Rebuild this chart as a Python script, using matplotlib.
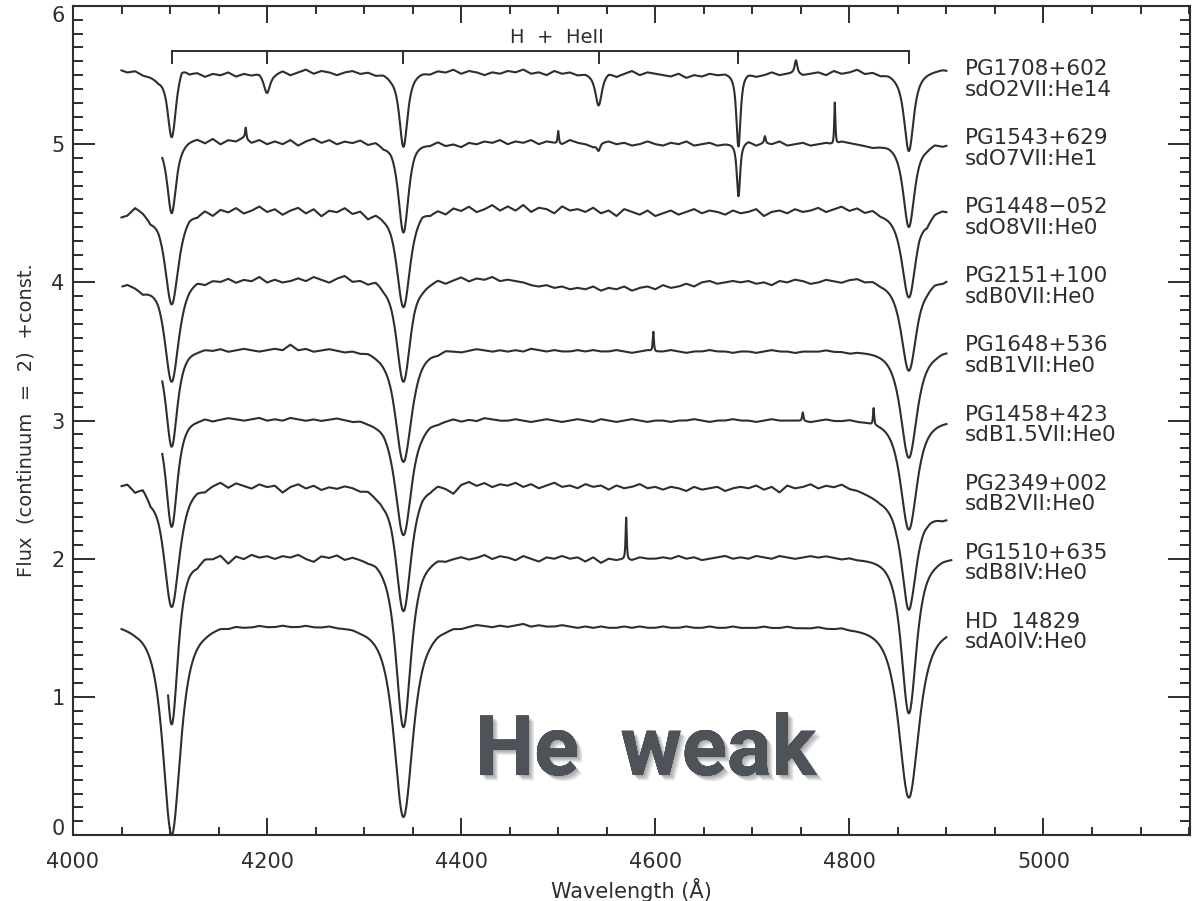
import numpy as np
import matplotlib
matplotlib.use("Agg")
import matplotlib.pyplot as plt
from matplotlib import patheffects, font_manager
from matplotlib.ticker import MultipleLocator

# ---------------------------------------------------------------- data
stars = ["PG1708+602", "PG1543+629", "PG1448\u2212052", "PG2151+100", "PG1648+536",
         "PG1458+423", "PG2349+002", "PG1510+635", "HD  14829"]
classes = ["sdO2VII:He14", "sdO7VII:He1", "sdO8VII:He0", "sdB0VII:He0", "sdB1VII:He0",
           "sdB1.5VII:He0", "sdB2VII:He0", "sdB8IV:He0", "sdA0IV:He0"]
continuum = [5.5, 5.0, 4.5, 4.0, 3.5, 3.0, 2.5, 2.0, 1.5]
wl_start = [4050, 4092, 4050, 4051, 4092, 4092, 4050, 4098, 4050]
wl_end = [4900, 4900, 4900, 4900, 4900, 4900, 4900, 4905, 4900]

# Balmer lines H-delta, H-gamma, H-beta
balmer_center = [4101.7, 4340.5, 4861.3]
balmer_depth = [[0.45, 0.52, 0.55], [0.50, 0.64, 0.60], [0.66, 0.68, 0.61],
                [0.72, 0.72, 0.64], [0.69, 0.80, 0.77], [0.77, 0.83, 0.79],
                [0.85, 0.88, 0.87], [1.20, 1.22, 1.12], [1.50, 1.37, 1.23]]
balmer_width = [[6.5, 6.5, 7.5], [7, 8, 9], [10.5, 10.5, 11],
                [11, 11, 12], [9, 13, 13], [9, 13, 13],
                [12, 12, 12], [10, 12, 12], [14, 15, 16]]

# other features: (centre, depth, width); negative depth = emission
extra_lines = [
    [(4199.8, 0.13, 5), (4541.6, 0.22, 5), (4685.7, 0.52, 3.3), (4745, -0.09, 2)],
    [(4685.7, 0.38, 2.6), (4541.6, 0.05, 2.5), (4178, -0.08, 1.0),
     (4500, -0.09, 1.0), (4785, -0.30, 0.9), (4713, -0.05, 1.2)],
    [],
    [],
    [(4598, -0.14, 0.9)],
    [(4752, -0.06, 1.0), (4825, -0.12, 0.9)],
    [],
    [(4570, -0.30, 0.9)],
    [],
]

# continuum wiggles (units of 0.01) sampled every 8 A from 4048 A
wiggle_wl = np.arange(4048, 4905, 8)
wiggles = [
    [4, 2, 3, 0, -1, -3, 0, 0, 8, 2,  2, -1, 1, 0, 2, -1, 1, 0, 2, 0,
     1, 3, 0, 2, 4, 1, 3, 2, 0, 2,  3, 1, 2, 0, 1, -1, 0, 0, 1, 2,
     1, 3, 2, 4, 1, 3, 2, 0, 2, 1,  3, 2, 4, 1, 2, 0, 3, 1, 2, 0,
     1, 0, 0, 2, -1, 1, 3, 0, 2, 1,  0, -1, 1, -2, 0, -1, 1, 0, 1, 0,
     0, 1, -1, 0, 2, 0, 1, 2, 0, 1,  2, 0, 3, 1, 2, 4, 1, 2, 0, 1,
     0, 0, 0, 1, 2, 3, 4, 3],
    [0, 0, 0, 0, 0, 0, 0, 0, 1, 3,  4, 1, 4, 0, 3, 2, 5, 1, 3, 0,
     2, 0, 3, -1, 2, 4, 1, 3, 0, 2,  1, 3, 0, 2, -1, 1, 0, 0, 2, 1,
     0, 2, -1, 0, -2, 1, 0, 2, 1, 3,  0, 2, 1, 3, 0, 2, 1, 0, 3, 1,
     0, -2, 1, 2, 0, 1, -1, 0, 2, 0,  -1, 1, 0, 2, -1, 0, 1, -1, 0, 0,
     0, 2, -1, 1, 0, 2, -1, 0, 1, -1,  0, 1, 0, 2, 1, 0, -1, -2, -1, 0,
     0, 0, 0, 0, -1, 1, -1, 0],
    [-3, -1, 5, 2, -3, 0, 0, 0, 0, 2,  0, 3, -1, 3, 1, 4, 0, 2, 5, 1,
     3, -1, 2, 4, 0, 3, -2, 2, 1, 4,  0, 2, -3, 1, 0, 1, 0, 0, 2, 4,
     1, 3, 0, 4, 2, 5, 1, 3, 6, 2,  5, 2, 6, 1, 4, 3, 0, 5, 2, 3,
     1, 4, 0, 2, -2, 3, 1, -1, 2, -2,  0, 2, -1, 1, 3, 0, 2, 1, -1, 2,
     0, 1, 3, -2, 1, 2, 0, 3, 1, 2,  4, 1, 3, 5, 2, 4, 1, 3, 0, 0,
     0, 0, 0, 2, -3, 2, 3, 1],
    [-3, -1, -3, -6, -3, 0, 0, 0, 0, 2,  3, 0, 2, 1, 3, 0, 2, 1, 4, 0,
     2, 0, 1, 3, 1, 4, 2, 0, 3, 5,  1, 2, 0, 3, 0, 1, 0, 0, 2, 0,
     1, 3, 0, 2, 4, 1, 3, 2, 4, 1,  2, 1, 0, -2, -3, -2, -4, -3, -5, -4,
     -5, -3, -6, -4, -5, -3, -6, -4, -3, -5,  -2, -4, -3, -1, -3, 0, 1, -1, 0, 1,
     0, 1, -1, 0, -2, 1, 0, 2, 1, -1,  0, 2, 1, 0, 2, 3, 1, 2, 0, 0,
     0, 0, 0, 1, 0, 2, 1, 3],
    [0, 0, 0, 0, 0, 0, 0, 0, 0, 1,  1, 2, 1, 2, 0, 1, 2, 1, 0, 1,
     2, 1, 5, 1, 2, 0, 1, 2, 1, 0,  1, 0, 1, 0, 0, 1, 0, 0, 0, 1,
     1, 0, 2, 1, 0, 1, 2, 1, 0, 1,  0, 1, 0, 2, 1, 0, 1, 0, 0, 1,
     0, 1, 0, 0, 1, 0, -1, 0, 1, 0,  0, 1, 0, -1, 0, 0, 1, 0, 0, -1,
     0, 0, -1, 0, 1, 0, 0, -1, 0, 0,  0, 1, 0, 0, -1, 0, 0, 0, 0, 0,
     0, 0, 0, 0, 0, 0, 1, 1],
    [0, 0, 0, 0, 0, 0, 0, 0, 0, 1,  1, 2, 0, 1, 2, 1, 0, 1, 2, 0,
     1, 0, 2, 1, 0, 1, 0, 1, 2, 1,  0, 1, 0, 0, 1, 0, 0, 0, 1, 0,
     1, 0, 1, 2, 0, 1, 0, 2, 1, 0,  0, 1, 0, -1, 0, 1, 0, -1, 0, 1,
     0, -1, 1, 0, -1, 0, 1, 0, -1, 0,  0, -1, 0, 0, 1, 0, -1, 0, 0, 1,
     0, 0, -1, 0, 1, 0, 0, 0, 0, -1,  0, 1, 0, 0, 1, 0, 0, 0, 0, 0,
     0, 0, 0, 0, 0, 0, 0, 0],
    [3, 5, 0, 4, -3, 0, 0, 0, 0, 2,  3, 1, 4, 6, 2, 5, 3, 1, 4, 2,
     3, -2, 2, 4, 1, 3, 0, 2, 1, 3,  2, 0, 1, -2, -3, 0, 0, 0, 2, 4,
     3, 5, 2, -2, 4, 6, 3, 5, 2, 4,  3, 5, 2, 4, 1, 3, 5, 2, 3, 1,
     4, 2, 3, 0, 3, 1, 2, 4, 1, 2,  0, 2, 1, -1, 2, 0, 1, 2, -1, 1,
     2, 1, 3, 0, 2, -2, 3, 1, 2, 4,  1, 3, 2, 4, 1, 0, -2, -4, -6, -6,
     -5, 0, 0, -8, -14, -17, -20, -20],
    [0, 0, 0, 0, 0, 0, 0, 0, 0, 0,  -2, 2, 1, 3, -3, 2, 0, 3, 1, 2,
     0, 2, 1, 3, 0, -2, 2, 1, 3, 0,  2, 1, 0, 1, 0, 0, 0, 0, 0, 1,
     1, 2, 0, 1, 2, 0, 1, 3, 0, 2,  1, -1, 2, 0, -2, 1, 0, 2, 0, 1,
     -2, 1, -3, 0, -1, 0, -1, 1, 0, 0,  1, 0, 2, 0, 1, -1, 0, 1, 2, 0,
     1, 0, 2, 1, 0, 2, 1, 0, 1, 2,  1, 2, 1, 0, 1, 0, 0, 0, 0, 0,
     0, 0, 0, 0, 0, 0, 1, 1],
    [2, 1, 0, 0, 0, 0, 0, 0, 0, 0,  0, 0, 1, 2, 1, 2, 1, 1, 2, 1,
     1, 2, 1, 1, 2, 1, 1, 2, 1, 1,  1, 0, 0, 0, 0, 0, 0, 0, 0, 0,
     0, 1, 1, 2, 1, 2, 3, 2, 1, 2,  1, 2, 3, 1, 2, 1, 1, 2, 1, 0,
     1, 0, 1, 0, 0, 1, 0, 1, 0, 0,  1, 0, 0, 1, 0, 0, 1, 0, 0, 1,
     0, 0, 0, 1, 0, 0, 1, 0, 0, 0,  1, 0, 0, 1, 0, 0, 0, 0, 0, 0,
     0, 0, 0, 0, 0, 0, 0, 0],
]

# line-identification bracket
ident_lines = [4101.7, 4199.8, 4340.5, 4541.6, 4685.7, 4861.3]
ident_label = "H  +  HeII"

# ---------------------------------------------------------------- style
INK = "#2e2e2e"
plt.rcParams.update({
    "font.family": ["DejaVu Sans"],
    "axes.linewidth": 1.5,
    "axes.edgecolor": INK,
    "xtick.color": INK,
    "ytick.color": INK,
})

installed = {f.name for f in font_manager.fontManager.ttflist}


def pick_font(candidates):
    for name in candidates:
        if name in installed:
            return name
    return "DejaVu Sans"


banner_font = pick_font(["Roboto", "Open Sans", "Lato"])


def profile(wl, centre, depth, width):
    return depth * (1.0 + ((wl - centre) / width) ** 2) ** -1.5


fig = plt.figure(figsize=(11.98, 9.01), dpi=100)
ax = fig.add_axes([73 / 1198, 66 / 901, 1117 / 1198, 829 / 901])

for i in range(len(stars)):
    wl = np.arange(wl_start[i], wl_end[i] + 0.01, 0.5)
    flux = continuum[i] + np.interp(wl, wiggle_wl, np.array(wiggles[i]) / 100.0)
    for c, d, w in zip(balmer_center, balmer_depth[i], balmer_width[i]):
        flux = flux - profile(wl, c, d, w)
    for c, d, w in extra_lines[i]:
        flux = flux - profile(wl, c, d, w)
    ax.plot(wl, flux, color=INK, lw=1.5, solid_joinstyle="round")

    ax.text(4919, continuum[i], stars[i], fontsize=15.5, color=INK,
            ha="left", va="baseline")
    ax.text(4919, continuum[i] - 0.15, classes[i], fontsize=15.5, color=INK,
            ha="left", va="baseline")

# bracket marking the H and HeII lines
bracket_y, tick_y = 5.675, 5.585
ax.plot([ident_lines[0], ident_lines[-1]], [bracket_y, bracket_y], color=INK, lw=1.4)
for c in ident_lines:
    ax.plot([c, c], [bracket_y, tick_y], color=INK, lw=1.4)
ax.text(4499, 5.73, ident_label, fontsize=14, color=INK, ha="center", va="baseline")

ax.set_xlim(4000, 5151)
ax.set_ylim(0, 6)
ax.xaxis.set_major_locator(MultipleLocator(200))
ax.xaxis.set_minor_locator(MultipleLocator(50))
ax.yaxis.set_major_locator(MultipleLocator(1))
ax.yaxis.set_minor_locator(MultipleLocator(0.1))
ax.tick_params(which="both", direction="in", top=True, right=True, width=1.4)
ax.tick_params(which="major", axis="x", length=12, labelsize=15, pad=12.5)
ax.tick_params(which="minor", axis="x", length=6)
ax.tick_params(which="major", axis="y", length=16, labelsize=15, pad=6)
ax.tick_params(which="minor", axis="y", length=7)

ax.set_xlabel("Wavelength (\u00c5)", fontsize=15, color=INK, va="baseline")
ax.xaxis.set_label_coords(0.5, -0.0755)
ax.set_ylabel("Flux  (continuum  =  2)  +const.", fontsize=14, color=INK,
              va="center")
ax.yaxis.set_label_coords(-0.042, 0.5)

banner = ax.text(4590, 0.435, "He  weak", fontsize=60, fontweight="bold",
                 family=[banner_font, "DejaVu Sans"], color="#4e535a",
                 ha="center", va="baseline")
shadows = [patheffects.withSimplePatchShadow(offset=(d, -d), shadow_rgbFace="#1a1a1a",
                                             alpha=0.09)
           for d in (0.8, 1.6, 2.4, 3.2, 4.0)]
banner.set_path_effects(shadows + [patheffects.Normal()])

# keep the end labels of the y axis inside the frame
fig.canvas.draw()
for tick in ax.yaxis.get_major_ticks():
    if np.isclose(tick.get_loc(), 6):
        tick.label1.set_verticalalignment("top")
    elif np.isclose(tick.get_loc(), 0):
        tick.label1.set_verticalalignment("baseline")

fig.savefig("out.png", dpi=100)
